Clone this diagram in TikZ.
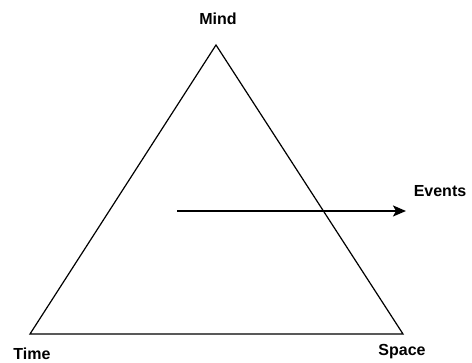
\documentclass[tikz,border=0pt]{standalone}
\usepackage{fontspec}
\setmainfont{Liberation Sans}
\usetikzlibrary{arrows.meta,positioning}

\tikzset{
  lbl/.style={font=\bfseries\fontsize{16}{18}\selectfont, inner sep=0pt},
  side/.style={line width=1.2pt},
  flow/.style={line width=1.8pt, -{Stealth[length=13pt, width=11pt, inset=3pt]}}
}

\begin{document}
\begin{tikzpicture}[x=1pt, y=1pt]
            \useasboundingbox (0,0) rectangle (472,363);
            % corners
            \coordinate (mind) at (216,318);
            \coordinate (time) at (30,29);
            \coordinate (space) at (403,29);
            % triangle
            \draw[side, line join=miter] (mind) -- (space) -- (time) -- cycle;
            % labels
            \node[lbl] (mindlbl) at (218,344) {Mind};
            \node[lbl] (timelbl) at (32,9) {Time};
            \node[lbl] (spacelbl) at (402,11) {Space};
            \node[lbl] (eventslbl) at (440,172) {Events};
            % events arrow
            \coordinate (evstart) at (177,152);
            \coordinate (evend) at (406,152);
            \draw[flow] (evstart) -- (evend);
\end{tikzpicture}
\end{document}
